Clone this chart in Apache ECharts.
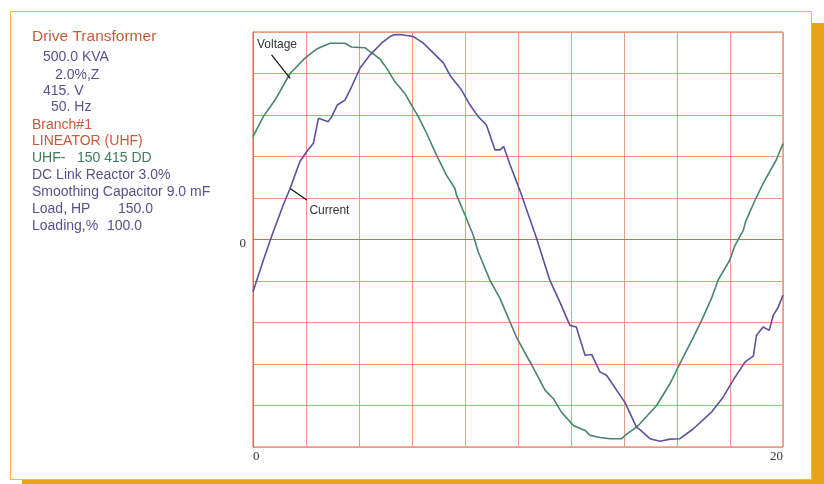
<!DOCTYPE html>
<html>
<head>
<meta charset="utf-8">
<script src="https://cdn.jsdelivr.net/npm/echarts@6/dist/echarts.min.js"></script>
<style>
html,body{margin:0;padding:0;background:#fff;}
#chart{width:824px;height:484px;}
</style>
</head>
<body>
<div id="chart"></div>
<script>
// ---- data ----
const voltageX = [0, 0.39, 0.83, 1.40, 1.96, 2.40, 2.90, 3.47, 3.72, 4.23, 4.79, 5.04, 5.36, 5.73, 6.05, 6.24, 6.55, 6.92, 7.30, 7.62, 7.68, 8.00, 8.31, 8.50, 8.94, 9.32, 9.94, 10.52, 11.02, 11.33, 11.64, 12.09, 12.53, 12.72, 13.09, 13.47, 13.91, 14.10, 14.47, 14.60, 15.23, 15.74, 16.11, 16.62, 16.93, 17.30, 17.55, 17.99, 18.19, 18.50, 18.60, 18.94, 19.25, 19.74, 20];
const voltageY = [2.48, 2.96, 3.36, 4.00, 4.37, 4.59, 4.73, 4.73, 4.64, 4.62, 4.35, 4.13, 3.80, 3.52, 3.16, 2.96, 2.56, 2.04, 1.55, 1.23, 1.07, 0.59, 0.11, -0.30, -0.98, -1.42, -2.35, -3.03, -3.63, -3.83, -4.16, -4.48, -4.60, -4.72, -4.77, -4.80, -4.80, -4.69, -4.52, -4.44, -4.00, -3.47, -2.99, -2.35, -1.95, -1.42, -0.98, -0.50, -0.14, 0.22, 0.45, 0.94, 1.35, 1.91, 2.31];
const currentX = [0, 0.39, 0.70, 1.14, 1.40, 1.77, 2.03, 2.28, 2.47, 2.84, 2.97, 3.18, 3.47, 3.72, 4.04, 4.42, 4.85, 5.17, 5.30, 5.55, 6.05, 6.43, 6.81, 7.19, 7.43, 7.87, 8.19, 8.50, 8.81, 9.13, 9.32, 9.46, 9.70, 9.94, 10.08, 10.70, 11.20, 11.58, 11.96, 12.20, 12.53, 12.78, 13.09, 13.34, 14.04, 14.47, 14.60, 14.98, 15.36, 15.74, 16.11, 16.62, 17.30, 17.74, 18.12, 18.57, 18.88, 19.00, 19.25, 19.48, 19.63, 19.82, 20];
const currentY = [-1.26, -0.50, 0.07, 0.83, 1.23, 1.88, 2.12, 2.32, 2.92, 2.84, 2.96, 3.24, 3.36, 3.68, 4.13, 4.45, 4.73, 4.89, 4.93, 4.94, 4.89, 4.73, 4.49, 4.25, 3.96, 3.60, 3.24, 2.96, 2.76, 2.16, 2.16, 2.24, 1.80, 1.40, 1.17, 0.03, -0.98, -1.51, -2.07, -2.11, -2.79, -2.77, -3.19, -3.27, -3.93, -4.52, -4.58, -4.80, -4.86, -4.81, -4.80, -4.56, -4.16, -3.80, -3.39, -2.95, -2.81, -2.31, -2.11, -2.19, -1.83, -1.63, -1.34];
const xTickLabels = [0, 20];
const yTickLabels = [0];
const seriesNames = ['Voltage', 'Current'];
const infoLines = [
  'Drive Transformer', '500.0 KVA', '2.0%,Z', '415. V', '50. Hz', 'Branch#1', 'LINEATOR (UHF)',
  'UHF-', '150 415 DD', 'DC Link Reactor 3.0%', 'Smoothing Capacitor 9.0 mF',
  'Load, HP', '150.0', 'Loading,%', '100.0'
];

// ---- chart ----
const RED = '#c65a3c', PURPLE = '#5b4f8e', GREEN = '#3f7c5c';
const chart = echarts.init(document.getElementById('chart'), null, {renderer: 'canvas'});

function pairs(xs, ys) { return xs.map((x, i) => [x, ys[i]]); }

const txtPos = [
  [32, 37, RED, 15.5], [43, 57.5, PURPLE, 14], [55, 75, PURPLE, 14], [43, 91, PURPLE, 14], [51, 107.5, PURPLE, 14],
  [32, 125, RED, 14], [32, 141.5, RED, 14], [32, 158.5, GREEN, 14], [77, 158.5, GREEN, 14],
  [32, 175, PURPLE, 14], [32, 192.3, PURPLE, 14], [32, 209.3, PURPLE, 14], [118, 209.3, PURPLE, 14],
  [32, 226, PURPLE, 14], [107, 226, PURPLE, 14]
];

const frameEls = [
  {type: 'rect', z: -10, shape: {x: 22, y: 23, width: 802, height: 461}, style: {fill: '#e8a515'}},
  {type: 'rect', z: -9, shape: {x: 10.5, y: 11.5, width: 801, height: 468}, style: {fill: '#ffffff', stroke: '#f2b84e', lineWidth: 1}}
];
const textEls = infoLines.map((t, i) => ({
  type: 'text', z: 5, x: txtPos[i][0], y: txtPos[i][1],
  style: {text: t, fill: txtPos[i][2], font: txtPos[i][3] + 'px "Liberation Sans", Arial, sans-serif', verticalAlign: 'middle'}
}));

const serifFont = '"Liberation Serif", "Times New Roman", serif';

chart.setOption({
  animation: false,
  backgroundColor: '#ffffff',
  grid: {left: 253, right: 41, top: 32, height: 415, show: true, borderColor: '#d9694a', borderWidth: 1, backgroundColor: 'transparent'},
  xAxis: {
    type: 'value', min: 0, max: 20, interval: 2,
    axisLine: {show: true, lineStyle: {color: '#d9694a', width: 1}},
    axisTick: {show: false},
    splitLine: {show: true, lineStyle: {color: '#eb9a7e', width: 1}},
    axisLabel: {
      show: true, margin: 3, color: '#333', fontFamily: serifFont, fontSize: 13,
      showMinLabel: true, showMaxLabel: true, alignMinLabel: 'left', alignMaxLabel: 'right',
      formatter: v => xTickLabels.indexOf(v) >= 0 ? String(v) : ''
    }
  },
  yAxis: {
    type: 'value', min: -5, max: 5, interval: 1,
    axisLine: {show: true, lineStyle: {color: '#d9694a', width: 1}},
    axisTick: {show: false},
    splitLine: {show: true, lineStyle: {color: '#eb9a7e', width: 1}},
    axisLabel: {
      show: true, margin: 7, color: '#333', fontFamily: serifFont, fontSize: 13,
      formatter: v => yTickLabels.indexOf(v) >= 0 ? '{a|' + v + '}' : '',
      rich: {a: {fontFamily: serifFont, fontSize: 13, color: '#333', padding: [8, 0, 0, 0]}}
    }
  },
  series: [
    {name: seriesNames[0], type: 'line', data: pairs(voltageX, voltageY), showSymbol: false, smooth: false,
     lineStyle: {color: '#47866a', width: 1.6}, itemStyle: {color: '#47866a'}, z: 3},
    {name: seriesNames[1], type: 'line', data: pairs(currentX, currentY), showSymbol: false, smooth: false,
     lineStyle: {color: '#5f4f9c', width: 1.6}, itemStyle: {color: '#5f4f9c'}, z: 4}
  ],
  graphic: {elements: frameEls.concat(textEls)}
});

// annotation labels positioned in data space
const p = c => chart.convertToPixel({gridIndex: 0}, c);
const vT = p([0.15, 4.70]), vA = p([0.70, 4.45]), vB = p([1.40, 3.88]);
const cT = p([2.13, 0.70]), cA = p([1.40, 1.23]), cB = p([2.03, 0.95]);
const annFont = '12px "Liberation Sans", Arial, sans-serif';
chart.setOption({
  graphic: {elements: frameEls.concat(textEls).concat([
    {type: 'text', z: 6, x: vT[0], y: vT[1], style: {text: seriesNames[0], fill: '#333', font: annFont, verticalAlign: 'middle'}},
    {type: 'line', z: 6, shape: {x1: vA[0], y1: vA[1], x2: vB[0], y2: vB[1]}, style: {stroke: '#111', lineWidth: 1.2}},
    {type: 'text', z: 6, x: cT[0], y: cT[1], style: {text: seriesNames[1], fill: '#333', font: annFont, verticalAlign: 'middle'}},
    {type: 'line', z: 6, shape: {x1: cA[0], y1: cA[1], x2: cB[0], y2: cB[1]}, style: {stroke: '#111', lineWidth: 1.2}}
  ])}
});
</script>
</body>
</html>
